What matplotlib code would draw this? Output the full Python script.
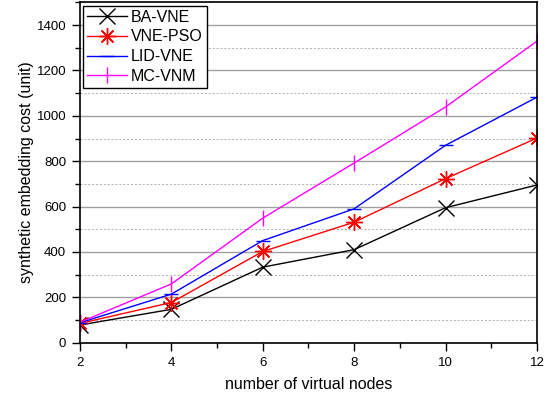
import matplotlib
matplotlib.use("Agg")
import matplotlib.pyplot as plt
from matplotlib.ticker import MultipleLocator

plt.rcParams['font.family'] = ['Liberation Sans', 'DejaVu Sans']

x = [2, 4, 6, 8, 10, 12]
ba_vne = [78, 147, 333, 410, 595, 695]
vne_pso = [85, 177, 402, 531, 723, 902]
lid_vne = [88, 214, 450, 590, 870, 1082]
mc_vnm = [90, 259, 549, 792, 1039, 1329]
labels = ['BA-VNE', 'VNE-PSO', 'LID-VNE', 'MC-VNM']

fig = plt.figure(figsize=(5.49, 3.98), dpi=100)
ax = fig.add_axes([0.1457, 0.139, 0.978 - 0.1457, 0.994 - 0.139])

ax.plot(x, ba_vne, color='black', marker='x', markersize=11, markeredgewidth=1.0, lw=1.0, label=labels[0])
ax.plot(x, vne_pso, color='red', marker=(8, 2, 0), markersize=12, markeredgewidth=1.0, lw=1.0, label=labels[1])
ax.plot(x, lid_vne, color='blue', marker='_', markersize=10, markeredgewidth=1.0, lw=1.0, label=labels[2])
ax.plot(x, mc_vnm, color='magenta', marker='|', markersize=11, markeredgewidth=1.0, lw=1.0, label=labels[3])

ax.set_xlim(2, 12)
ax.set_ylim(0, 1500)
ax.xaxis.set_major_locator(MultipleLocator(2))
ax.xaxis.set_minor_locator(MultipleLocator(1))
ax.yaxis.set_major_locator(MultipleLocator(200))
ax.yaxis.set_minor_locator(MultipleLocator(100))
ax.set_yticks(range(0, 1401, 200))

ax.grid(True, which='major', axis='y', color='#a0a0a0', lw=1.0, ls='-')
ax.grid(True, which='minor', axis='y', color='#b0b0b0', lw=0.7, ls=(0, (2, 2)))
ax.set_axisbelow(True)

ax.tick_params(which='major', direction='out', length=6, width=1.0, labelsize=9.5, top=False, right=False, pad=4)
ax.tick_params(which='minor', direction='out', length=3.5, width=1.0, top=False, right=False)
for s in ax.spines.values():
    s.set_linewidth(1.2)

ax.set_xlabel('number of virtual nodes', fontsize=11.5, labelpad=6)
ax.set_ylabel('synthetic embedding cost (unit)', fontsize=11.5, labelpad=2)

leg = ax.legend(loc='upper left', fontsize=11.5, frameon=True, fancybox=False,
                edgecolor='black', framealpha=1, borderpad=0.25, labelspacing=0.3,
                handlelength=2.5, handletextpad=0.25, borderaxespad=0.2)
leg.get_frame().set_linewidth(1.0)

fig.savefig('out.png', dpi=100)
